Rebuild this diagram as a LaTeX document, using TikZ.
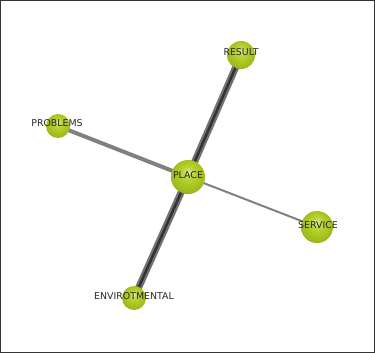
\documentclass[tikz,border=0pt]{standalone}
\usepackage{fontspec}
\setsansfont{DejaVu Sans}
\usetikzlibrary{positioning}
\definecolor{nodegreen}{RGB}{172,202,34}
\definecolor{ballhi}{RGB}{222,236,140}
\definecolor{ballrim}{RGB}{112,134,16}
\pgfdeclareradialshading{greenball}{\pgfpoint{0bp}{8bp}}{color(0bp)=(ballhi); color(8bp)=(nodegreen!70!ballhi); color(16bp)=(nodegreen); color(26bp)=(nodegreen!75!ballrim); color(33bp)=(ballrim); color(50bp)=(ballrim)}
\begin{document}
\begin{tikzpicture}[x=1pt,y=-1pt,
  ball/.style={circle,draw=none,shading=greenball,inner sep=0pt},
  tag/.style={font=\sffamily\fontsize{9.4}{10}\selectfont,text=black!85,inner sep=0pt},
  heavy/.style={line width=7pt,draw=black!55},
  heavycore/.style={line width=2.5pt,draw=black!80},
  medium/.style={line width=4pt,draw=black!50},
  light/.style={line width=2pt,draw=black!50}]
\useasboundingbox (0,0) rectangle (375,353);
\draw[black!80,line width=1.2pt] (0.6,0.6) rectangle (374.4,352.4);
% centres
\coordinate (place) at (188,177);
\coordinate (result) at (241,55);
\coordinate (problems) at (58,126);
\coordinate (service) at (317,227);
\coordinate (envir) at (134,298);
% links
\draw[heavy] (place)--(result);
\draw[heavycore] (place)--(result);
\draw[heavy] (place)--(envir);
\draw[heavycore] (place)--(envir);
\draw[medium] (place)--(problems);
\draw[light] (place)--(service);
% nodes
\node[ball,minimum size=34pt] (placeball) at (place){};
\node[ball,minimum size=28pt] (resultball) at (result){};
\node[ball,minimum size=24pt] (problemsball) at (problems){};
\node[ball,minimum size=32pt] (serviceball) at (service){};
\node[ball,minimum size=24pt] (envirball) at (envir){};
\node[tag] (placetag) at (188,175){PLACE};
\node[tag] (resulttag) at (241,52){RESULT};
\node[tag] (problemstag) at (57,123){PROBLEMS};
\node[tag] (servicetag) at (318,225){SERVICE};
\node[tag] (envirtag) at (134,296){ENVIROTMENTAL};
\end{tikzpicture}
\end{document}
